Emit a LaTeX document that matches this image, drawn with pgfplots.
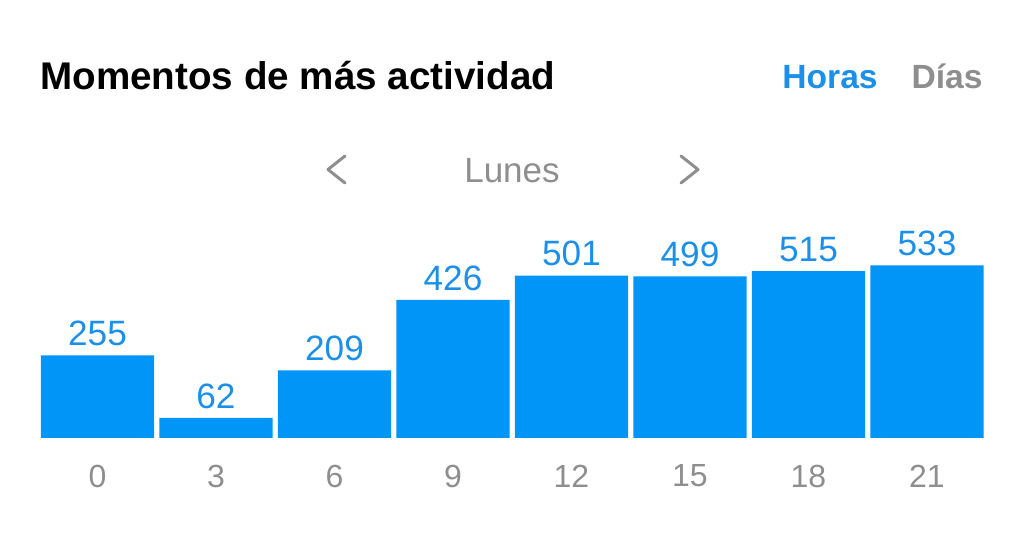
\documentclass[border=0pt]{standalone}
\usepackage{pgfplots}
\pgfplotsset{compat=1.18}
\usepackage{fontspec}
\setmainfont{Liberation Sans}
\definecolor{igblue}{HTML}{0095F6}
\definecolor{labblue}{HTML}{1C8FE8}
\definecolor{iggray}{HTML}{8E8E8E}
\begin{document}
\begin{tikzpicture}
\path (0,0) rectangle (512pt,271pt);
\node[anchor=base west, inner sep=0pt, font=\fontsize{19.3}{21}\selectfont\bfseries] at (20pt,226pt) {Momentos de más actividad};
\node[anchor=base west, inner sep=0pt, text=labblue, font=\fontsize{16.8}{18}\selectfont\bfseries] at (391pt,226.5pt) {Horas};
\node[anchor=base east, inner sep=0pt, text=iggray, font=\fontsize{16.8}{18}\selectfont\bfseries] at (491.5pt,226.5pt) {Días};
\node[anchor=base, inner sep=0pt, text=iggray, font=\fontsize{17.5}{19}\selectfont] at (256pt,179.5pt) {Lunes};
\draw[iggray, line width=1.5pt, line cap=round, line join=round] (172.5pt,193pt) -- (164pt,186.25pt) -- (172.5pt,179.5pt);
\draw[iggray, line width=1.5pt, line cap=round, line join=round] (340.5pt,193pt) -- (349pt,186.25pt) -- (340.5pt,179.5pt);
\begin{axis}[
  at={(19.125pt,52pt)}, anchor=south west,
  scale only axis, width=474pt, height=97.2pt,
  xmin=-0.5, xmax=7.5, ymin=0, ymax=600,
  axis x line*=bottom, axis y line=none,
  x axis line style={draw=none},
  xtick=data, xticklabels={0,3,6,9,12,15,18,21},
  xtick style={draw=none}, ytick=\empty,
  xticklabel style={anchor=center, yshift=-19pt, text=iggray, font=\fontsize{16}{18}\selectfont},
  /pgf/number format/assume math mode=true,
  clip=false,
  nodes near coords,
  nodes near coords style={anchor=south, inner sep=0pt, yshift=4.5pt, text=labblue, font=\fontsize{17.6}{19}\selectfont},
]
\addplot[ybar, bar width=0.954, fill=igblue, draw=none] coordinates {
(0,255) (1,62) (2,209) (3,426) (4,501) (5,499) (6,515) (7,533)
};
\end{axis}
\end{tikzpicture}
\end{document}
